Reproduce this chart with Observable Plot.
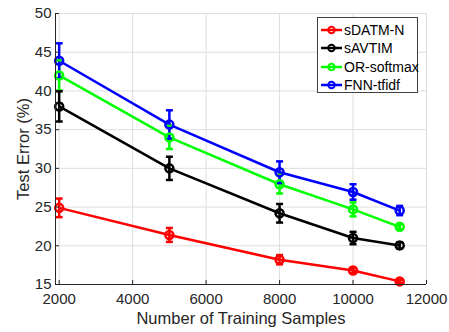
<!DOCTYPE html>
<html><head><meta charset="utf-8">
<script src="https://cdn.jsdelivr.net/npm/d3@7"></script>
<script src="https://cdn.jsdelivr.net/npm/@observablehq/plot@0.6"></script>
<style>
body{margin:0;background:#fff;font-family:"Liberation Sans",Arial,sans-serif;}
#wrap{position:relative;width:449px;height:332px;}
#legend{position:absolute;left:317px;top:17px;width:101px;height:76px;border:1px solid #404040;background:#fff;box-sizing:border-box;font-size:14px;color:#000;}
.row{position:absolute;left:2px;height:18px;display:flex;align-items:center;white-space:nowrap;}
.row svg{margin-right:1px;}
</style></head>
<body><div id="wrap"><div id="legend"></div></div>
<script>
const samples = [2000, 5000, 8000, 10000, 11270];
const seriesNames = ["sDATM-N", "sAVTIM", "OR-softmax", "FNN-tfidf"];
const seriesColors = ["#ff0000", "#000000", "#00ff00", "#0000ff"];
const sDATM = [24.9, 21.4, 18.2, 16.8, 15.4];
const sDATMErr = [1.2, 0.9, 0.6, 0.35, 0.2];
const sAVTIM = [38.0, 30.0, 24.2, 21.0, 20.05];
const sAVTIMErr = [1.95, 1.5, 1.2, 0.8, 0.4];
const ORsoftmax = [42.0, 34.0, 27.95, 24.7, 22.45];
const ORsoftmaxErr = [1.95, 1.5, 1.2, 0.9, 0.3];
const FNN = [43.9, 35.65, 29.5, 26.95, 24.55];
const FNNErr = [2.25, 1.85, 1.4, 1.0, 0.6];
const xTicks = [2000, 4000, 6000, 8000, 10000, 12000];
const yTicks = [15, 20, 25, 30, 35, 40, 45, 50];

const values = [sDATM, sAVTIM, ORsoftmax, FNN];
const errs = [sDATMErr, sAVTIMErr, ORsoftmaxErr, FNNErr];
const data = [];
seriesNames.forEach((name, i) => {
  samples.forEach((x, j) => {
    data.push({series: name, x, y: values[i][j], lo: values[i][j] - errs[i][j], hi: values[i][j] + errs[i][j]});
  });
});
const color = {domain: seriesNames, range: seriesColors};
const cap = {draw(ctx, size) { const w = Math.sqrt(size / Math.PI); ctx.moveTo(-w, 0); ctx.lineTo(w, 0); }};

const chart = Plot.plot({
  width: 449, height: 332,
  marginLeft: 55, marginRight: 23, marginTop: 13, marginBottom: 48,
  style: {fontFamily: "Liberation Sans, Arial, sans-serif", fontSize: "15px", color: "#262626", background: "#fff"},
  x: {domain: [1900, 12000], ticks: xTicks},
  y: {domain: [15, 50], ticks: yTicks},
  color,
  marks: [
    Plot.ruleX(xTicks, {stroke: "#dedede", strokeWidth: 1}),
    Plot.ruleY(yTicks, {stroke: "#dedede", strokeWidth: 1}),
    Plot.line(data, {x: "x", y: "y", z: "series", stroke: "series", strokeWidth: 2.5}),
    Plot.ruleX(data, {x: "x", y1: "lo", y2: "hi", stroke: "series", strokeWidth: 2.5}),
    Plot.dot(data, {x: "x", y: "lo", symbol: cap, r: 3.5, stroke: "series", strokeWidth: 2.5}),
    Plot.dot(data, {x: "x", y: "hi", symbol: cap, r: 3.5, stroke: "series", strokeWidth: 2.5}),
    Plot.dot(data, {x: "x", y: "y", r: 4, stroke: "series", strokeWidth: 2.5, fill: "none"}),
    Plot.axisX({ticks: xTicks, tickSize: -4, tickPadding: 13, tickFormat: d => String(d), label: null, fill: "#262626", stroke: "#262626", fontSize: 15}),
    Plot.axisY({ticks: yTicks, tickSize: -4, tickPadding: 8, label: null, fill: "#262626", stroke: "#262626", fontSize: 15}),
    Plot.ruleX([1900], {stroke: "#262626", strokeWidth: 1}),
    Plot.ruleY([15], {stroke: "#262626", strokeWidth: 1}),
    Plot.text(["Number of Training Samples"], {frameAnchor: "bottom", textAnchor: "middle", dy: 39, fontSize: 16.5, fill: "#262626"}),
    Plot.text(["Test Error (%)"], {frameAnchor: "left", textAnchor: "middle", rotate: -90, dx: -32, fontSize: 16.5, fill: "#262626"})
  ]
});
document.getElementById("wrap").prepend(chart);

const legend = document.getElementById("legend");
seriesNames.forEach((name, i) => {
  const row = document.createElement("div");
  row.className = "row";
  row.style.top = (3 + i * 18.3) + "px";
  row.innerHTML = `<svg width="23" height="12"><line x1="1" y1="6" x2="22" y2="6" stroke="${seriesColors[i]}" stroke-width="2.5"/><circle cx="11.5" cy="6" r="3.2" fill="none" stroke="${seriesColors[i]}" stroke-width="2"/></svg><span>${name}</span>`;
  legend.appendChild(row);
});
</script></body></html>
